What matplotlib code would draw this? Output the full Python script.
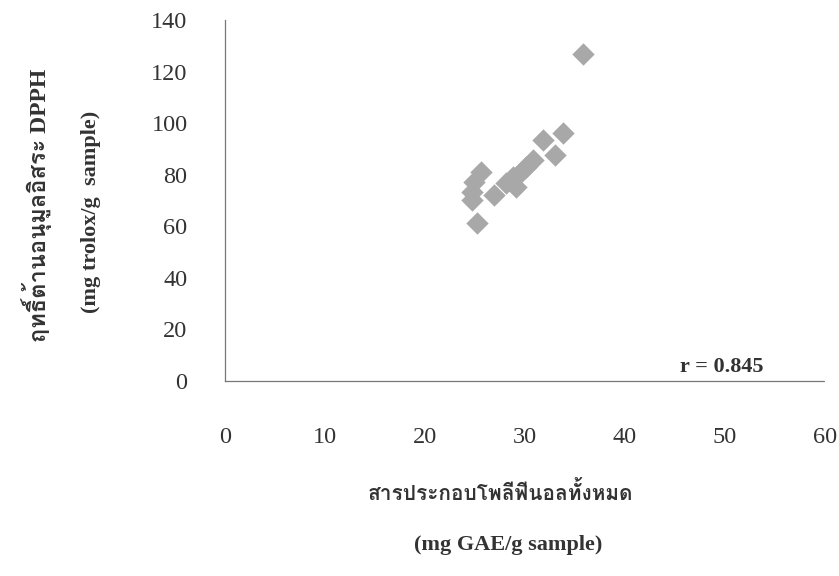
#!/usr/bin/env python3
"""
Scatter: total polyphenols vs DPPH antioxidant activity
"""

import matplotlib
matplotlib.use('Agg')
import matplotlib.pyplot as plt
from matplotlib import font_manager, ft2font

# data (mg GAE/g, mg trolox/g)
polyphenol = [25.2, 25.6, 24.9, 24.7, 24.7, 26.9, 29.1, 28.8, 28.1,
              29.6, 30.1, 30.8, 31.8, 33.8, 33.0, 35.8]
dpph = [61.4, 81.1, 77.2, 73.4, 70.2, 72.1, 75.3, 79.2, 76.7,
        81.0, 83.1, 85.7, 93.4, 96.0, 87.6, 126.7]
x_ticks = [0, 10, 20, 30, 40, 50, 60]
y_ticks = [0, 20, 40, 60, 80, 100, 120, 140]
r_text = "r = 0.845"

xlabel_th = "สารประกอบโพลีฟีนอลทั้งหมด"
xlabel_en = "(mg GAE/g sample)"
ylabel_th = "ฤทธิ์ต้านอนุมูลอิสระ DPPH"
ylabel_en = "(mg trolox/g  sample)"


def find_thai_font():
    # หาฟอนต์ที่มีอักษรไทย
    for f in font_manager.fontManager.ttflist:
        try:
            if 0x0E2A in ft2font.FT2Font(f.fname).get_charmap():
                return f.name
        except Exception:
            pass
    return None


thai = find_thai_font()
serif = ['Liberation Serif', 'DejaVu Serif']
fam = serif + ([thai] if thai else [])
plt.rcParams['font.family'] = fam

txt = '#333333'

fig = plt.figure(figsize=(8.39, 5.76), dpi=100)
ax = fig.add_axes([0.2682, 0.3385, 0.7151, 0.6267])

ax.scatter(polyphenol, dpph, marker='D', s=130, color='#a8a8a8',
           linewidths=0, zorder=3)

ax.set_xlim(0, 60)
ax.set_ylim(0, 140)
ax.set_xticks(x_ticks)
ax.set_yticks(y_ticks)
ax.tick_params(length=0, labelsize=17.5, labelcolor=txt)
ax.tick_params(axis='x', pad=33)
ax.tick_params(axis='y', pad=27)

for s in ['top', 'right']:
    ax.spines[s].set_visible(False)
for s in ['left', 'bottom']:
    ax.spines[s].set_linestyle((0, (1, 1)))
    ax.spines[s].set_color('#777777')
    ax.spines[s].set_linewidth(0.9)

ax.text(49.7, 5.6, r_text, ha='center', va='center', fontsize=16,
        fontweight='bold', color=txt)

# ชื่อแกน (ข้อความไทยกับอังกฤษแยกบรรทัด)
fig.text(500 / 839, 1 - 493 / 576, xlabel_th, ha='center', va='center',
         fontsize=15, fontweight='bold', color=txt)
fig.text(508 / 839, 1 - 545 / 576, xlabel_en, ha='center', va='center',
         fontsize=16, fontweight='bold', color=txt)
fig.text(37 / 839, 1 - 205 / 576, ylabel_th, ha='center', va='center',
         rotation=90, fontsize=17, fontweight='bold', color=txt)
fig.text(91 / 839, 1 - 212 / 576, ylabel_en, ha='center', va='center',
         rotation=90, fontsize=16, fontweight='bold', color=txt)

plt.savefig("out.png", dpi=100)
